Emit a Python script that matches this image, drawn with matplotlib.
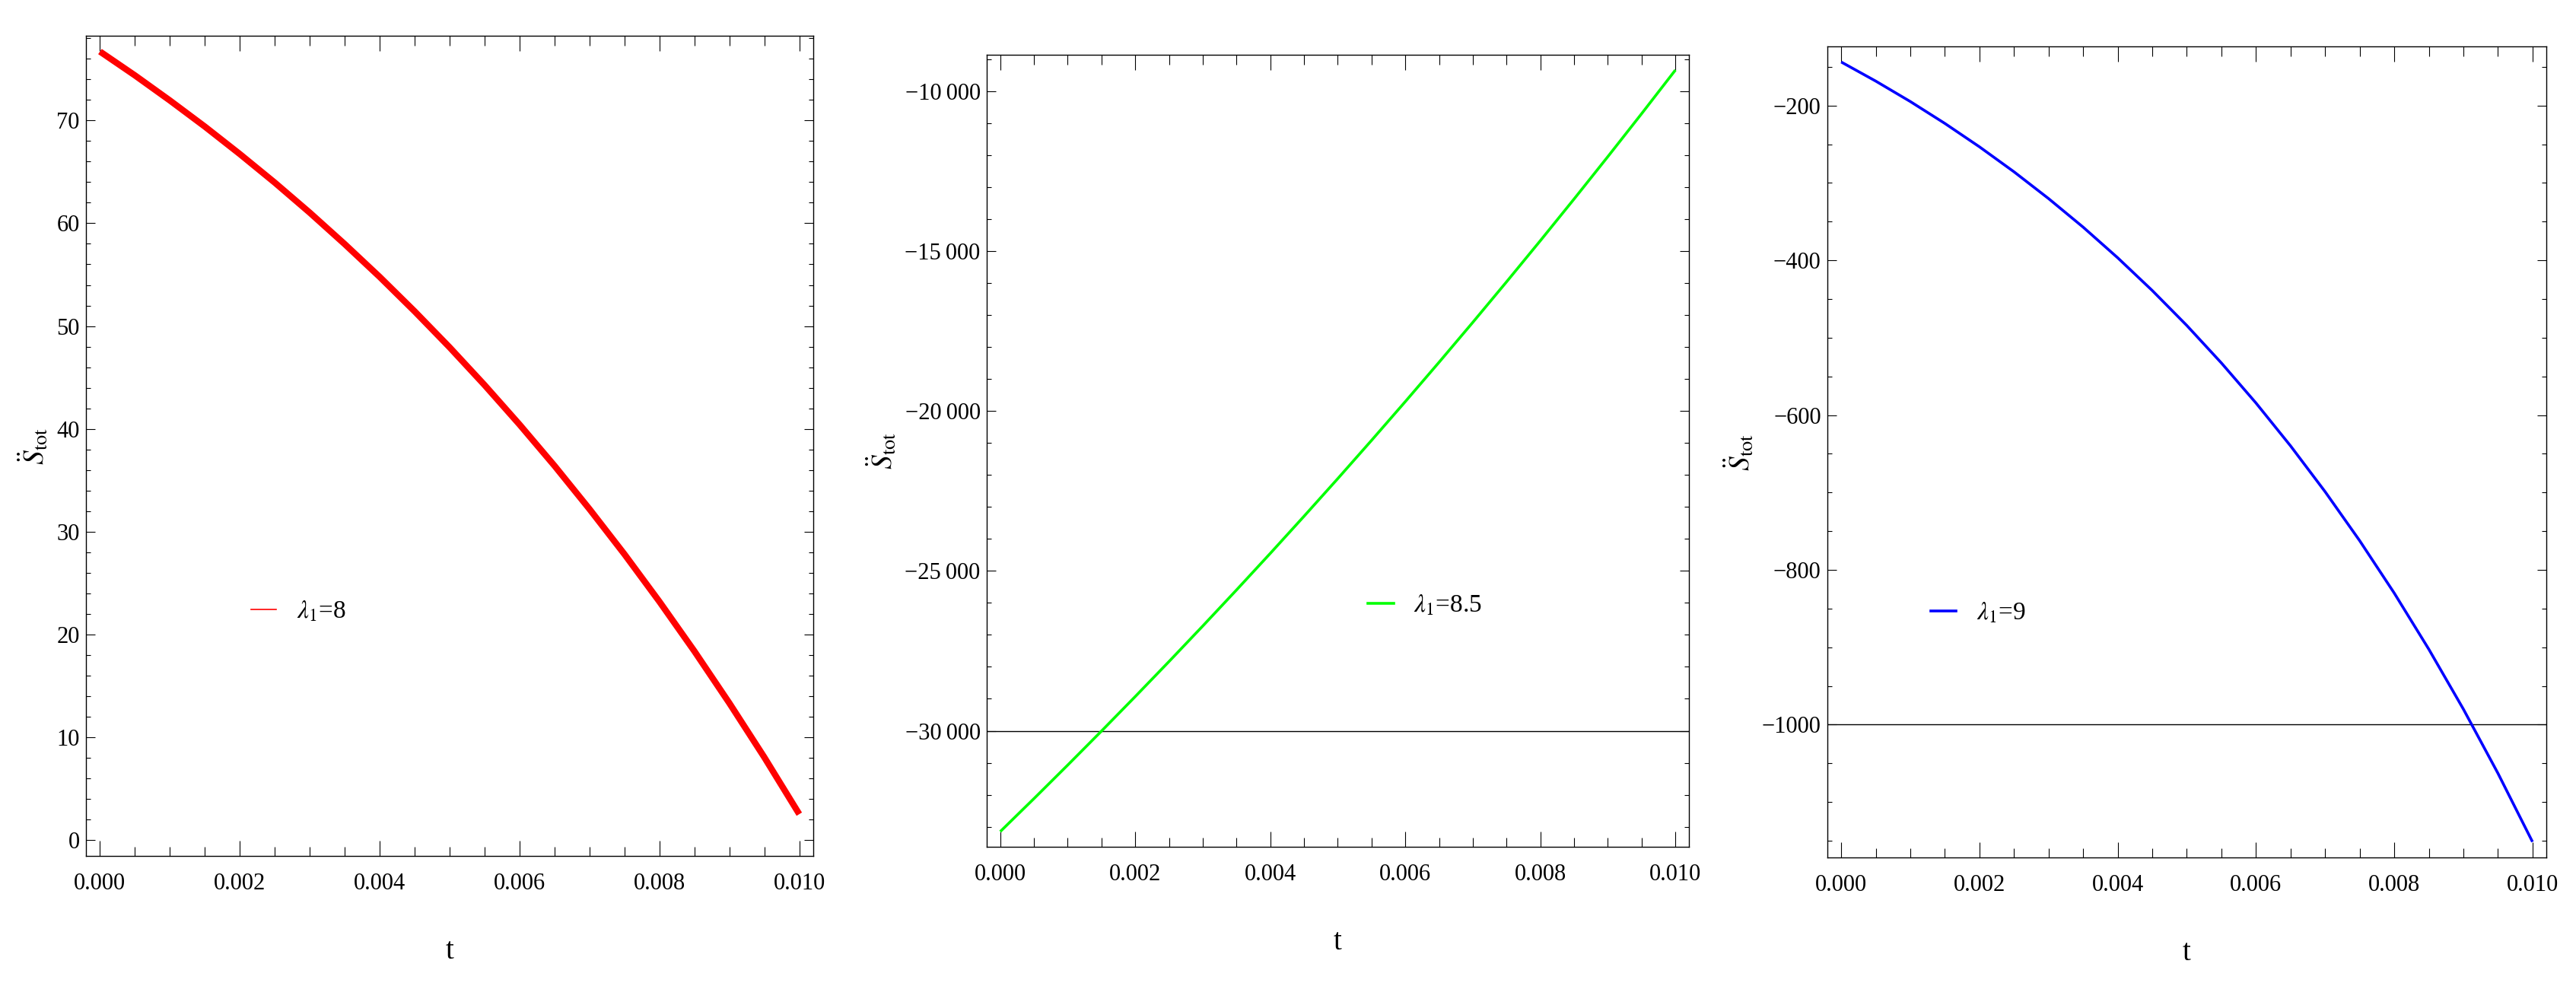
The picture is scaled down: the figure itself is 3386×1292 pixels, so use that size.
import numpy as np
import matplotlib
matplotlib.use("Agg")
import matplotlib.pyplot as plt
from matplotlib.ticker import MultipleLocator, FuncFormatter
from matplotlib.lines import Line2D

plt.rcParams['font.family'] = ['Liberation Serif', 'DejaVu Serif']
plt.rcParams['mathtext.fontset'] = 'stix'

# ---------------- data ----------------
t = [0.0000, 0.0005, 0.0010, 0.0015, 0.0020, 0.0025, 0.0030, 0.0035, 0.0040, 0.0045,
     0.0050, 0.0055, 0.0060, 0.0065, 0.0070, 0.0075, 0.0080, 0.0085, 0.0090, 0.0095, 0.0100]

s_l8 = [76.70, 74.38, 71.94, 69.40, 66.73, 63.95, 61.03, 57.97, 54.78, 51.43,
        47.93, 44.26, 40.42, 36.41, 32.20, 27.81, 23.20, 18.38, 13.33, 8.06, 2.53]

s_l85 = [-33150, -32118, -31070, -30007, -28928, -27834, -26723, -25596, -24453, -23292,
         -22115, -20920, -19708, -18478, -17230, -15963, -14678, -13374, -12050, -10708, -9345]

s_l9 = [-143.8, -168.5, -194.9, -223.2, -253.4, -285.7, -320.3, -357.2, -396.8, -439.1,
        -484.3, -532.7, -584.4, -639.8, -699.0, -762.3, -830.0, -902.5, -979.9, -1062.8, -1151.4]

labels = [r'$\lambda_1$=8', r'$\lambda_1$=8.5', r'$\lambda_1$=9']
colors = ['#ff0000', '#00ff00', '#0000ff']
axis_origin = [0, -30000, -1000]       # where the horizontal axis line sits
draw_axis_line = [False, True, True]
x_ticks = [0.000, 0.002, 0.004, 0.006, 0.008, 0.010]

# ---------------- layout (pixels of the 3387x1292 canvas) ----------------
W, H = 3387, 1292
frames = [(113, 47, 1069, 1125), (1297, 72, 2220, 1113), (2402, 61, 3347, 1127)]
lws = [6.0, 2.6, 2.6]
ymaj = [10, 5000, 200]
ymin = [2, 1000, 50]
legend_pos = [(0.227, 0.298), (0.543, 0.3045), (0.144, 0.301)]
series = [s_l8, s_l85, s_l9]

fig = plt.figure(figsize=(W / 100, H / 100), dpi=100)


def fmt_thousands(v, pos):
    iv = int(round(v))
    s = str(abs(iv))
    if len(s) > 4:
        s = s[:-3] + '\u2009' + s[-3:]
    return ('\u2212' if iv < 0 else '') + s


for i in range(3):
    l, tp, r, b = frames[i]
    ax = fig.add_axes([l / W, 1 - b / H, (r - l) / W, (b - tp) / H])
    y = series[i]
    ax.plot(t, y, color=colors[i], lw=lws[i], solid_capstyle='butt', zorder=3)
    if draw_axis_line[i]:
        ax.axhline(axis_origin[i], color='black', lw=1.0, zorder=2)

    lo = min(min(y), axis_origin[i]) if i == 0 else min(y)
    hi = max(y)
    pad = 0.02 * (hi - lo)
    ax.set_ylim(lo - pad, hi + pad)
    ax.set_xlim(-0.0002, 0.0102)

    ax.xaxis.set_minor_locator(MultipleLocator(0.0005))
    ax.set_xticks(x_ticks)
    ax.xaxis.set_major_formatter(FuncFormatter(lambda v, p: f'{v:.3f}'))
    ax.yaxis.set_major_locator(MultipleLocator(ymaj[i]))
    ax.yaxis.set_minor_locator(MultipleLocator(ymin[i]))
    ax.yaxis.set_major_formatter(FuncFormatter(fmt_thousands))

    ax.tick_params(axis='x', which='major', direction='in', length=14.5, width=0.8,
                   top=True, bottom=True, labelsize=22, pad=16)
    ax.tick_params(axis='x', which='minor', direction='in', length=9, width=0.8,
                   top=True, bottom=True)
    ax.tick_params(axis='y', which='major', direction='in', length=8.5, width=0.8,
                   left=True, right=True, labelsize=22, pad=6)
    ax.tick_params(axis='y', which='minor', direction='in', length=4.5, width=0.8,
                   left=True, right=True)
    for sp in ax.spines.values():
        sp.set_linewidth(1.0)

    ax.set_xlabel('t', fontsize=28, labelpad=40)
    ax.set_ylabel(r'$\ddot{S}_{\mathrm{tot}}$', fontsize=27, labelpad=6)

    handle = Line2D([], [], color=colors[i], lw=1.2 if i == 0 else 2.6)
    ax.legend([handle], [labels[i]], loc='center left', bbox_to_anchor=legend_pos[i],
              frameon=False, fontsize=24, handlelength=1.0, handletextpad=0.8,
              borderaxespad=0, borderpad=0)

fig.savefig('out.png', dpi=100)
